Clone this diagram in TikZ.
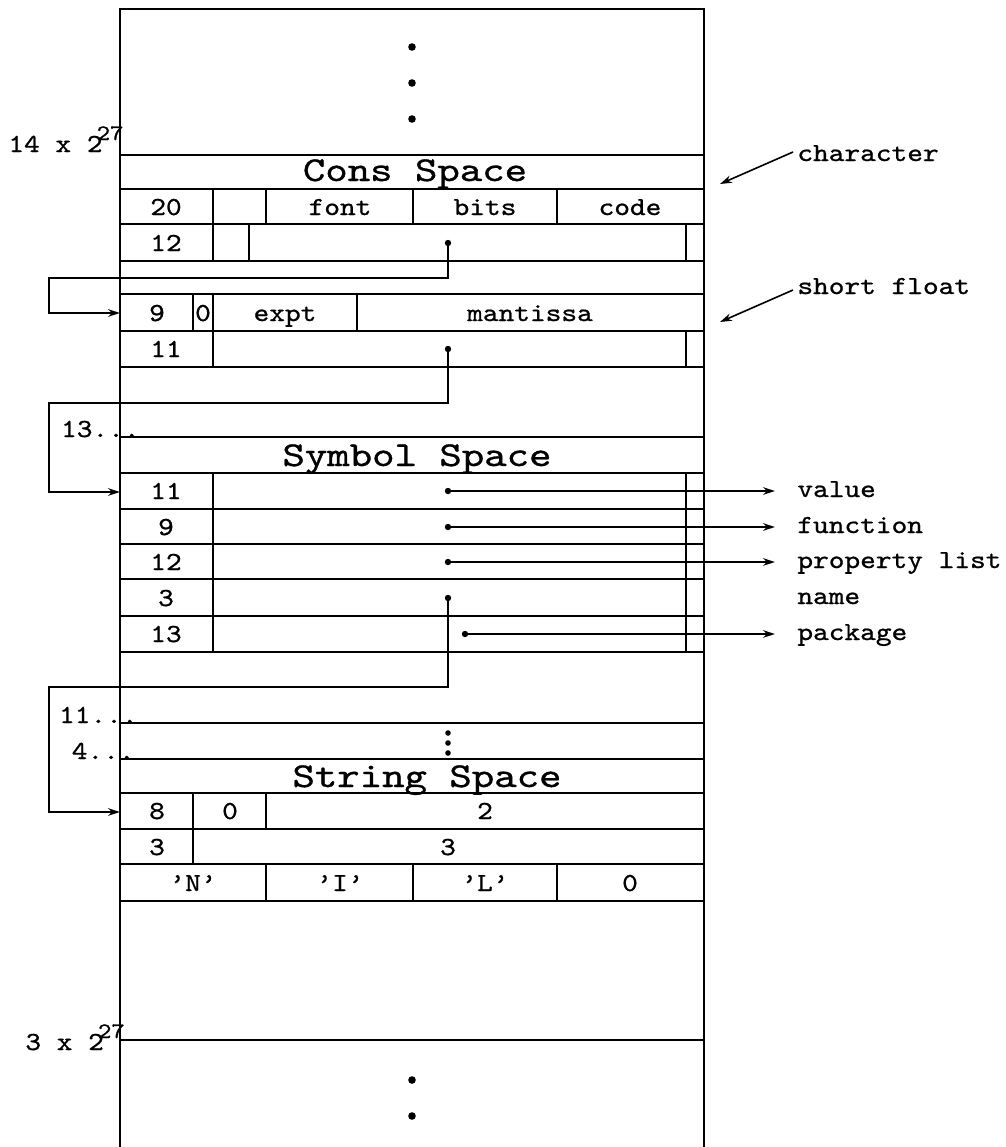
\documentclass[tikz,border=0pt]{standalone}
\usepackage{fontspec}
\setmonofont{lmmono10-regular.otf}[FakeBold=0.8]
\usetikzlibrary{arrows.meta}
\newcommand\T[1]{\scalebox{1.15}[1]{#1}}
\newcommand\TB[1]{\scalebox{1.22}[1]{#1}}
\tikzset{
 boxedge/.style={line width=1.4pt},
 rowline/.style={line width=1.1pt},
 divline/.style={line width=0.65pt},
 connline/.style={line width=0.8pt},
 arrtip/.style={-{Stealth[length=6pt,width=3.8pt]}},
 lbl/.style={font=\fontsize{13}{15}\selectfont\ttfamily, inner sep=0pt, anchor=base},
 hdr/.style={font=\fontsize{17.5}{20}\selectfont\ttfamily, inner sep=0pt, anchor=base},
 ptrdot/.style={circle, fill, inner sep=0pt, minimum size=3.2pt},
 elldot/.style={circle, fill, inner sep=0pt, minimum size=3.8pt},
}
\begin{document}
\begin{tikzpicture}[x=0.5pt,y=-0.5pt]
\useasboundingbox (0,0) rectangle (1006,1147);
% memory box
\draw[boxedge] (120,1147) -- (120,9) -- (704,9) -- (704,1147);
\foreach \yy in {155,189,224,261,294,331,367,437,473,509,544,579,616,652,723,759,793,829,864,901,1040}
  \draw[rowline] (120,\yy) -- (704,\yy);
% ellipsis dots
\node[elldot] (t1) at (412,47) {};
\node[elldot] (t2) at (412,83) {};
\node[elldot] (t3) at (412,119) {};
\node[elldot] (b1) at (412,1080) {};
\node[elldot] (b2) at (412,1116) {};
\node[ptrdot, minimum size=2.8pt] (v1) at (448,733) {};
\node[ptrdot, minimum size=2.8pt] (v2) at (448,743) {};
\node[ptrdot, minimum size=2.8pt] (v3) at (448,753) {};
% dividers
\draw[divline] (213,189)--(213,224) (266,189)--(266,224) (413,189)--(413,224) (557,189)--(557,224);
\draw[divline] (213,224)--(213,261) (249,224)--(249,261) (686,224)--(686,261);
\draw[divline] (193,294)--(193,331) (213,294)--(213,331) (357,294)--(357,331);
\draw[divline] (213,331)--(213,367) (686,331)--(686,367);
\draw[divline] (213,473)--(213,652) (686,473)--(686,652);
\draw[divline] (193,793)--(193,864) (266,793)--(266,829);
\draw[divline] (266,864)--(266,901) (413,864)--(413,901) (557,864)--(557,901);
% headers
\node[hdr] (hcons) at (415,181) {\TB{Cons Space}};
\node[hdr] (hsym) at (417,466) {\TB{Symbol Space}};
\node[hdr] (hstr) at (427,787) {\TB{String Space}};
% cons space cells
\node[lbl] (c20) at (166,215) {\T{20}};
\node[lbl] (cfont) at (340,215) {\T{font}};
\node[lbl] (cbits) at (485,215) {\T{bits}};
\node[lbl] (ccode) at (630,215) {\T{code}};
\node[lbl] (c12) at (166,251) {\T{12}};
\node[lbl] (c9) at (157,321) {\T{9}};
\node[lbl] (c0) at (203,321) {\T{0}};
\node[lbl] (cexpt) at (285,321) {\T{expt}};
\node[lbl] (cmant) at (530,321) {\T{mantissa}};
\node[lbl] (c11) at (166,357) {\T{11}};
% symbol space cells
\node[lbl] (s11) at (166,499) {\T{11}};
\node[lbl] (s9) at (166,535) {\T{9}};
\node[lbl] (s12) at (166,570) {\T{12}};
\node[lbl] (s3) at (166,606) {\T{3}};
\node[lbl] (s13) at (166,642) {\T{13}};
% string space cells
\node[lbl] (g8) at (157,819) {\T{8}};
\node[lbl] (g0) at (230,819) {\T{0}};
\node[lbl] (g2) at (485,819) {\T{2}};
\node[lbl] (g3) at (157,855) {\T{3}};
\node[lbl] (g3b) at (448,855) {\T{3}};
\node[lbl] (gN) at (193,891) {\T{’N’}};
\node[lbl] (gI) at (340,891) {\T{’I’}};
\node[lbl] (gL) at (485,891) {\T{’L’}};
\node[lbl] (gz) at (630,891) {\T{0}};
% left address labels
\node[lbl, anchor=base west] (a14) at (8,152) {\T{14 x 2\kern-2.5pt\raisebox{6pt}{\fontsize{11}{12}\selectfont 27}}};
\node[lbl, anchor=base west] (a3) at (25,1050) {\T{3 x 2\kern-2.5pt\raisebox{6pt}{\fontsize{11}{12}\selectfont 27}}};
\node[lbl, anchor=base east] (a13) at (140,437) {\T{13...}};
\node[lbl, anchor=base east] (a11) at (138,723) {\T{11...}};
\node[lbl, anchor=base east] (a4) at (135,759) {\T{4...}};
% pointer connectors (left loops)
\node[ptrdot] (d1) at (448,243) {};
\coordinate (d1a) at (448,278); \coordinate (d1b) at (49,278); \coordinate (d1c) at (49,313); \coordinate (d1t) at (120,313);
\draw[connline, arrtip] (d1.center) -- (d1a) -- (d1b) -- (d1c) -- (d1t);
\node[ptrdot] (d2) at (448,349) {};
\coordinate (d2a) at (448,403); \coordinate (d2b) at (49,403); \coordinate (d2c) at (49,492); \coordinate (d2t) at (120,492);
\draw[connline, arrtip] (d2.center) -- (d2a) -- (d2b) -- (d2c) -- (d2t);
\node[ptrdot] (dn) at (448,598) {};
\coordinate (d3a) at (448,687); \coordinate (d3b) at (49,687); \coordinate (d3c) at (49,812); \coordinate (d3t) at (120,812);
\draw[connline, arrtip] (dn.center) -- (d3a) -- (d3b) -- (d3c) -- (d3t);
% right labels
\node[lbl, anchor=base west] (lchar) at (797,161) {\T{character}};
\node[lbl, anchor=base west] (lshort) at (797,294) {\T{short float}};
\coordinate (chs) at (793,152); \coordinate (che) at (720,184);
\coordinate (shs) at (793,290); \coordinate (she) at (720,322);
\draw[connline, arrtip] (chs) -- (che);
\draw[connline, arrtip] (shs) -- (she);
\node[lbl, anchor=base west] (lval) at (797,497) {\T{value}};
\node[lbl, anchor=base west] (lfun) at (797,533) {\T{function}};
\node[lbl, anchor=base west] (lprop) at (797,568) {\T{property list}};
\node[lbl, anchor=base west] (lname) at (797,604) {\T{name}};
\node[lbl, anchor=base west] (lpkg) at (797,640) {\T{package}};
\node[ptrdot] (dv) at (448,491) {};
\node[ptrdot] (df) at (448,527) {};
\node[ptrdot] (dp) at (448,562) {};
\node[ptrdot] (dk) at (465,634) {};
\coordinate (ev) at (775,491); \coordinate (ef) at (775,527);
\coordinate (ep) at (775,562); \coordinate (ek) at (775,634);
\draw[connline, arrtip] (dv.center) -- (ev);
\draw[connline, arrtip] (df.center) -- (ef);
\draw[connline, arrtip] (dp.center) -- (ep);
\draw[connline, arrtip] (dk.center) -- (ek);
\end{tikzpicture}
\end{document}
